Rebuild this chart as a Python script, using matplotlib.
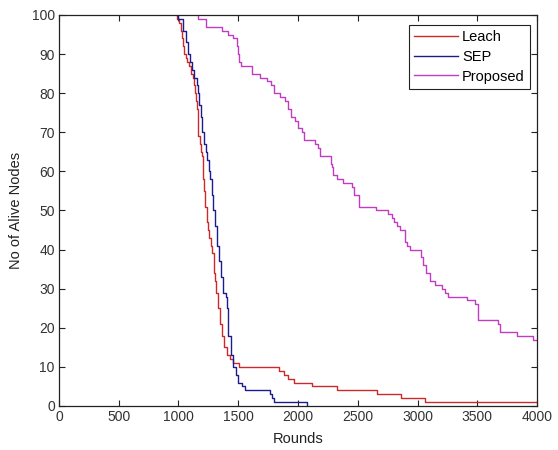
import matplotlib
matplotlib.use("Agg")
import matplotlib.pyplot as plt

plt.rcParams["font.family"] = ["Liberation Sans", "DejaVu Sans"]

# Leach
leach_rounds = [985, 990, 1005, 1018, 1030, 1040, 1050, 1063, 1075, 1091, 1105, 1119,
                1130, 1138, 1145, 1152, 1160, 1166, 1176, 1186, 1194, 1202, 1212, 1222,
                1236, 1247, 1258, 1268, 1278, 1297, 1305, 1314, 1333, 1347, 1361, 1381,
                1403, 1431, 1459, 1509, 1840, 1880, 1920, 1965, 2115, 2325, 2665, 2860,
                3065, 4000]
leach_alive = [100, 99, 98, 96, 94, 92, 90, 89, 88, 87, 85, 84,
               82, 80, 78, 76, 72, 69, 67, 65, 64, 58, 55, 51,
               47, 45, 43, 41, 39, 34, 32, 29, 25, 21, 18, 15,
               13, 12, 11, 10, 9, 8, 7, 6, 5, 4, 3, 2,
               1, 1]

# SEP
sep_rounds = [990, 1000, 1040, 1063, 1082, 1096, 1110, 1130, 1152, 1163, 1174, 1186,
              1199, 1216, 1228, 1241, 1252, 1264, 1278, 1291, 1305, 1320, 1341, 1356,
              1370, 1397, 1408, 1417, 1437, 1459, 1481, 1500, 1529, 1556, 1766, 1785,
              1800, 2073]
sep_alive = [100, 99, 96, 93, 90, 88, 86, 84, 82, 80, 77, 74,
             70, 67, 65, 63, 60, 58, 54, 50, 46, 41, 37, 33,
             29, 28, 25, 18, 13, 10, 8, 6, 5, 4, 3, 2,
             1, 0]

# Proposed
prop_rounds = [1160, 1166, 1230, 1361, 1417, 1459, 1492, 1500, 1510, 1520, 1612, 1682,
               1738, 1770, 1802, 1849, 1891, 1915, 1939, 1975, 2000, 2030, 2050, 2086,
               2142, 2170, 2184, 2273, 2285, 2296, 2324, 2378, 2449, 2470, 2513, 2547,
               2650, 2750, 2784, 2800, 2830, 2854, 2895, 2909, 2937, 3026, 3045, 3071,
               3105, 3146, 3202, 3230, 3258, 3412, 3481, 3510, 3545, 3676, 3690, 3705,
               3830, 3969, 4000]
prop_alive = [100, 99, 97, 96, 95, 94, 92, 90, 88, 87, 85, 84,
              83, 82, 80, 79, 78, 76, 74, 73, 71, 70, 68, 68,
              67, 66, 64, 62, 61, 59, 58, 57, 56, 54, 51, 51,
              50, 49, 48, 47, 46, 45, 42, 41, 40, 38, 36, 34,
              32, 31, 30, 29, 28, 27, 26, 22, 22, 21, 19, 19,
              18, 17, 17]

fig = plt.figure(figsize=(5.58, 4.5), dpi=100)
ax = fig.add_axes([0.1057, 0.0978, 0.8567, 0.8689])

ax.step(leach_rounds, leach_alive, where="post", color="#cc2a2a", linewidth=1.0, label="Leach")
ax.step(sep_rounds, sep_alive, where="post", color="#1c1c8e", linewidth=1.0, label="SEP")
ax.step(prop_rounds, prop_alive, where="post", color="#c03cc0", linewidth=1.0, label="Proposed")

ax.set_xlim(0, 4000)
ax.set_ylim(0, 100)
ax.set_xticks(range(0, 4001, 500))
ax.set_yticks(range(0, 101, 10))
ax.tick_params(direction="in", length=4, width=0.8, top=True, right=True,
               labelsize=10, colors="#222222", labelcolor="#333333", pad=3)
for s in ax.spines.values():
    s.set_linewidth(0.9)
    s.set_color("#222222")
    s.set_zorder(5)

ax.set_xlabel("Rounds", fontsize=10.5, color="#222222", labelpad=6)
ax.set_ylabel("No of Alive Nodes", fontsize=10.5, color="#222222", labelpad=6)

leg = ax.legend(loc="upper right", bbox_to_anchor=(0.985, 0.975), borderaxespad=0,
                fontsize=10.5, handlelength=3.0, labelspacing=0.4, fancybox=False,
                framealpha=1, edgecolor="#222222", handletextpad=0.3, borderpad=0.35)
leg.get_frame().set_linewidth(0.8)

fig.savefig("out.png", dpi=100)
plt.close(fig)
